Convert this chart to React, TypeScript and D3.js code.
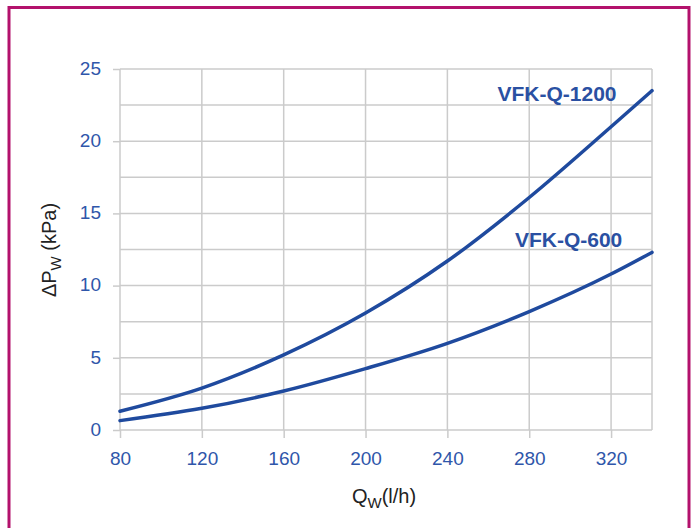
import * as d3 from 'd3';
import { useEffect, useRef } from 'react';

// flow rate Qw (l/h) and pressure drop (kPa)
const flow = [80, 120, 160, 200, 240, 280, 320, 340];
const vfk1200 = [1.3, 2.9, 5.2, 8.1, 11.7, 16.1, 21.0, 23.5];
const vfk600 = [0.65, 1.5, 2.7, 4.25, 6.0, 8.2, 10.8, 12.3];
const xTicks = [80, 120, 160, 200, 240, 280, 320];
const yTicks = [0, 5, 10, 15, 20, 25];
const yGrid = [0, 2.5, 5, 7.5, 10, 12.5, 15, 17.5, 20, 22.5, 25];
const seriesNames = ['VFK-Q-1200', 'VFK-Q-600'];

const width = 694;
const height = 528;
const tickColor = '#2f56aa';
const lineColor = '#1f4a9e';
const gridColor = '#cbcbcb';

export default function App() {
  const svgRef = useRef<SVGSVGElement | null>(null);

  useEffect(() => {
    const margin = { top: 69, right: 42, bottom: 98, left: 120 };
    const innerWidth = width - margin.left - margin.right;
    const innerHeight = height - margin.top - margin.bottom;

    const svg = d3.select(svgRef.current);
    svg.selectAll('*').remove();

    // magenta frame
    svg.append('rect')
      .attr('x', 9)
      .attr('y', 7.5)
      .attr('width', 680)
      .attr('height', 540)
      .attr('fill', '#fff')
      .attr('stroke', '#b3126c')
      .attr('stroke-width', 3);

    const g = svg.append('g').attr('transform', `translate(${margin.left},${margin.top})`);

    const x = d3.scaleLinear().domain([80, 340]).range([0, innerWidth]);
    const y = d3.scaleLinear().domain([0, 25]).range([innerHeight, 0]);

    // grid
    g.selectAll('.hgrid')
      .data(yGrid)
      .enter()
      .append('line')
      .attr('x1', 0)
      .attr('x2', innerWidth)
      .attr('y1', (d) => y(d))
      .attr('y2', (d) => y(d))
      .attr('stroke', gridColor)
      .attr('stroke-width', 1.5);

    g.selectAll('.vgrid')
      .data([...xTicks, 340])
      .enter()
      .append('line')
      .attr('x1', (d) => x(d))
      .attr('x2', (d) => x(d))
      .attr('y1', 0)
      .attr('y2', innerHeight)
      .attr('stroke', gridColor)
      .attr('stroke-width', 1.5);

    // axes
    const yAxis = g.append('g')
      .call(d3.axisLeft(y).tickValues(yTicks).tickSize(7).tickPadding(12));
    const xAxis = g.append('g')
      .attr('transform', `translate(0,${innerHeight})`)
      .call(d3.axisBottom(x).tickValues(xTicks).tickSize(8).tickPadding(14));

    [yAxis, xAxis].forEach((ax) => {
      ax.select('.domain').remove();
      ax.selectAll('line').attr('stroke', gridColor).attr('stroke-width', 1.5);
      ax.selectAll('text')
        .attr('fill', tickColor)
        .style('font-family', 'Liberation Sans, Arial, sans-serif')
        .style('font-size', '19px');
    });
    yAxis.selectAll('text').attr('dy', '0.28em');

    // curves
    const line = d3.line<number>()
      .x((_, i) => x(flow[i]))
      .y((d) => y(d))
      .curve(d3.curveMonotoneX);

    [vfk1200, vfk600].forEach((values) => {
      g.append('path')
        .datum(values)
        .attr('fill', 'none')
        .attr('stroke', lineColor)
        .attr('stroke-width', 3.5)
        .attr('stroke-linecap', 'round')
        .attr('d', line);
    });

    // series labels, placed in data units
    const labelPos = [
      { q: 264.5, v: 22.8 },
      { q: 273, v: 12.65 },
    ];
    seriesNames.forEach((name, i) => {
      g.append('text')
        .attr('x', x(labelPos[i].q))
        .attr('y', y(labelPos[i].v))
        .attr('fill', '#2a50a2')
        .style('font-family', 'Liberation Sans, Arial, sans-serif')
        .style('font-weight', 'bold')
        .style('font-size', '21px')
        .text(name);
    });

    // axis titles
    const yTitle = svg.append('text')
      .attr('transform', 'translate(56,250) rotate(-90)')
      .attr('text-anchor', 'middle')
      .attr('fill', '#222')
      .style('font-family', 'Liberation Sans, Arial, sans-serif')
      .style('font-size', '20px');
    yTitle.append('tspan').text('ΔP');
    yTitle.append('tspan').attr('dy', 5).style('font-size', '15px').text('W');
    yTitle.append('tspan').attr('dy', -5).text(' (kPa)');

    const xTitle = svg.append('text')
      .attr('x', 384)
      .attr('y', 503)
      .attr('text-anchor', 'middle')
      .attr('fill', '#222')
      .style('font-family', 'Liberation Sans, Arial, sans-serif')
      .style('font-size', '20px');
    xTitle.append('tspan').text('Q');
    xTitle.append('tspan').attr('dy', 5).style('font-size', '15px').text('W');
    xTitle.append('tspan').attr('dy', -5).text('(l/h)');
  }, []);

  return (
    <svg
      ref={svgRef}
      width={width}
      height={height}
      style={{ position: 'absolute', left: 0, top: 0, background: '#fff' }}
    />
  );
}
